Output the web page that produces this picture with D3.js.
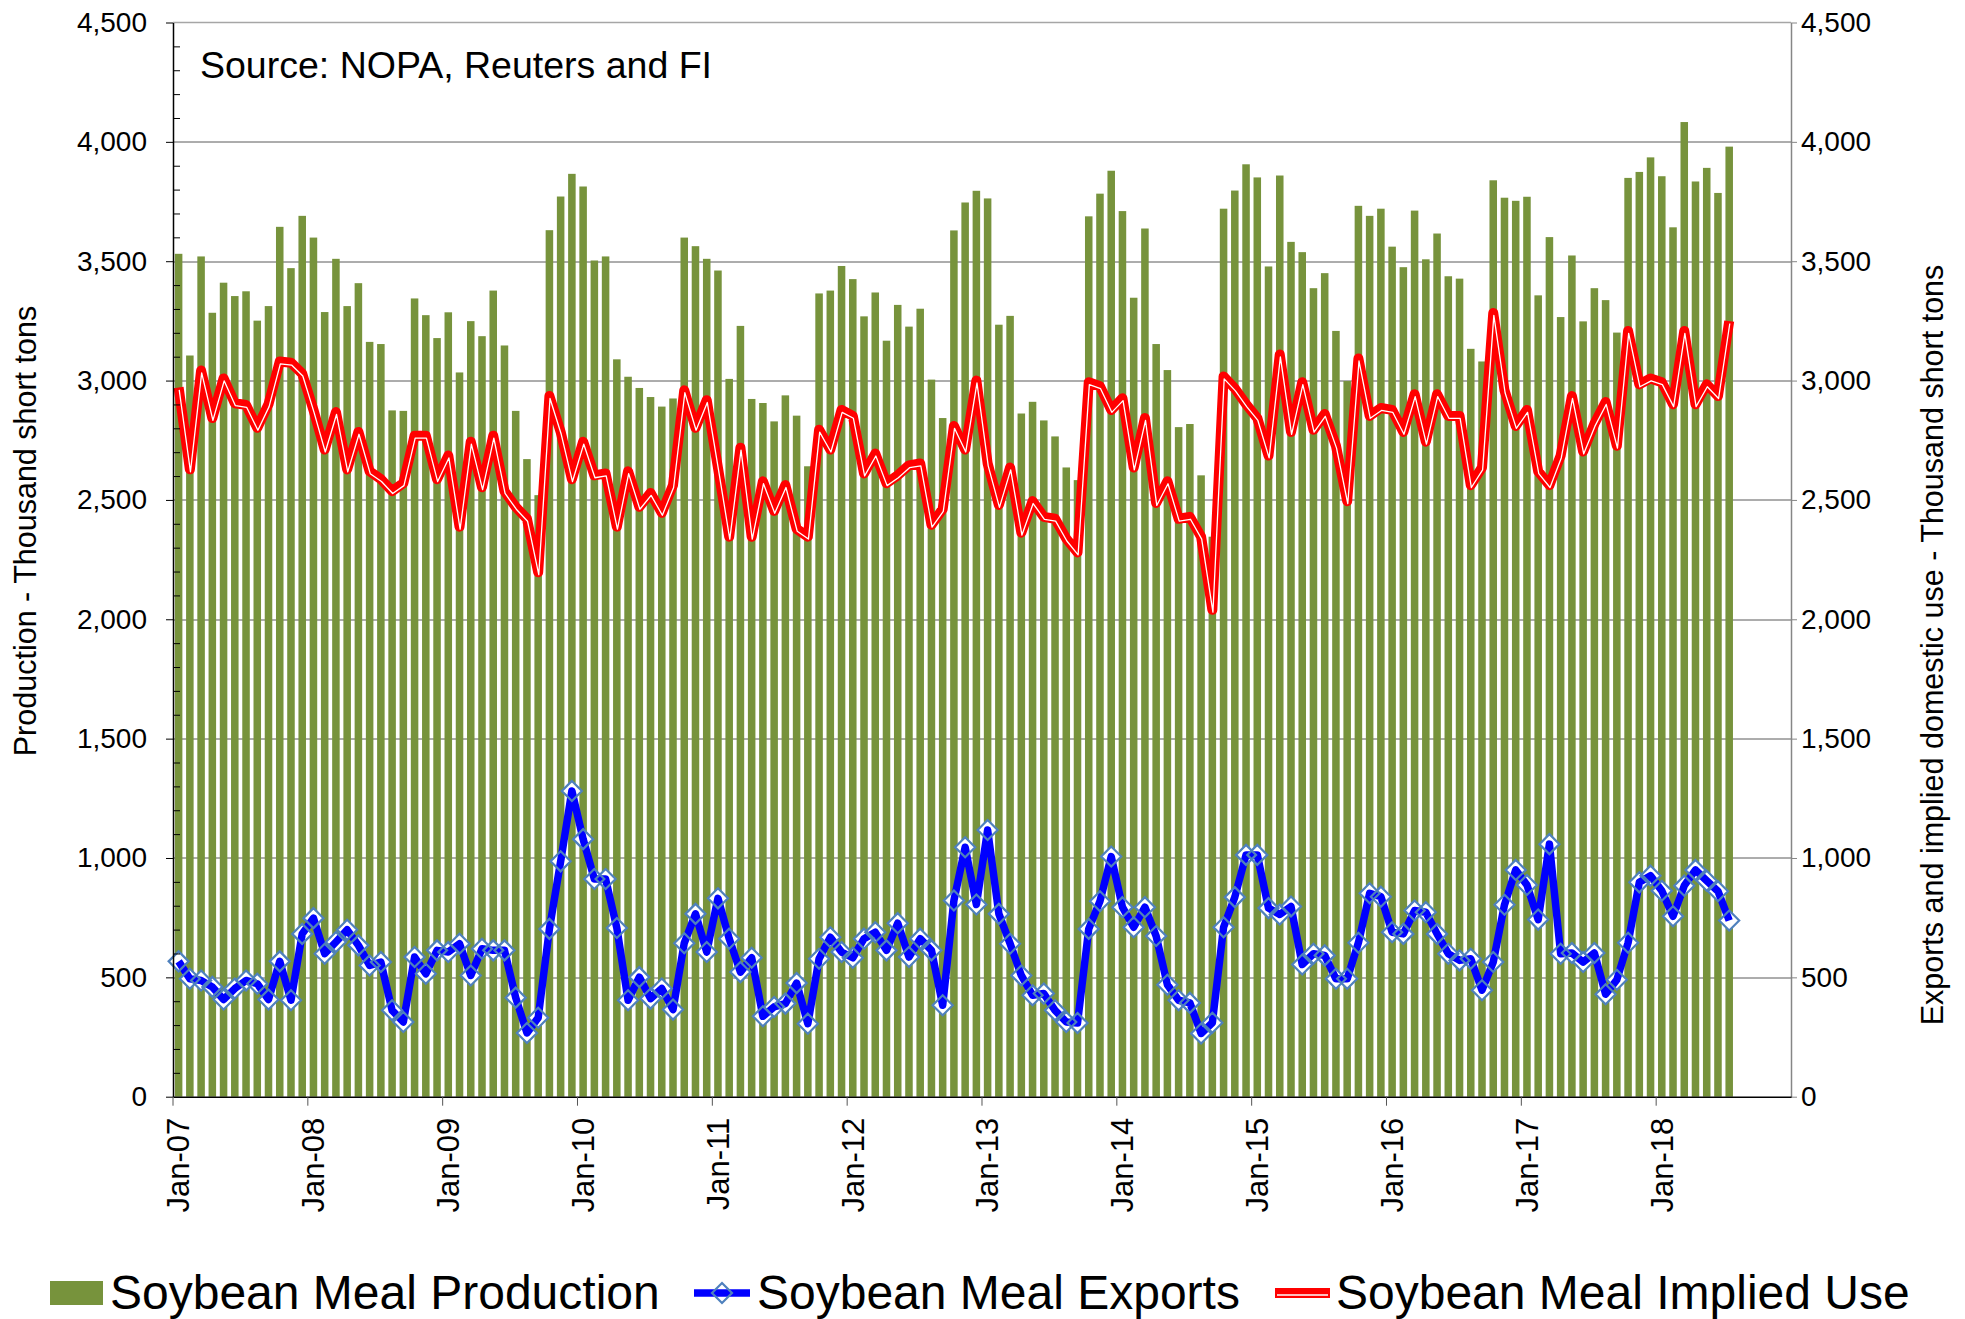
<!DOCTYPE html>
<meta charset="utf-8">

<!-- Load d3.js -->
<script src="https://d3js.org/d3.v7.min.js"></script>

<style>
  body { margin: 0; background: #fff; }
  text { font-family: "Liberation Sans", Arial, sans-serif; fill: #000; }
</style>

<div id="my_dataviz"></div>

<script>
    // monthly values Jan-07 .. Jul-18, thousand short tons
    var production = [
      3531,3105,3520,3284,3410,3354,3374,3251,3312,3644,3471,3690,
      3599,3287,3510,3312,3408,3162,3153,2875,2873,3344,3274,3178,
      3286,3034,3249,3186,3377,3147,2873,2671,2520,3630,3771,3866,
      3813,3503,3520,3089,3016,2969,2931,2891,2925,3599,3563,3510,
      3461,3007,3229,2923,2906,2829,2938,2853,2641,3365,3377,3480,
      3425,3269,3369,3167,3317,3226,3301,3004,2843,3629,3746,3795,
      3763,3234,3271,2862,2911,2833,2766,2636,2583,3688,3783,3879,
      3710,3347,3637,3153,3044,2805,2818,2603,2346,3720,3796,3906,
      3851,3478,3859,3581,3538,3387,3450,3208,2998,3732,3690,3720,
      3561,3475,3712,3508,3616,3437,3427,3133,3080,3839,3766,3753,
      3770,3357,3601,3266,3524,3248,3387,3337,3201,3849,3874,3935,
      3856,3642,4083,3834,3891,3786,3980
    ];

    var exportsData = [
      567,494,487,460,407,453,487,473,407,567,404,682,
      748,599,648,699,634,550,564,362,313,585,515,613,
      606,641,508,620,613,613,415,267,331,703,986,1281,
      1079,912,912,707,404,501,411,453,365,643,766,606,
      831,662,522,582,337,376,390,476,306,578,668,606,
      582,662,689,613,727,585,662,613,383,822,1045,805,
      1117,766,641,508,425,432,362,313,309,703,819,1006,
      794,710,794,673,469,404,393,265,310,710,836,1013,
      1013,790,763,797,554,599,592,494,494,645,852,838,
      689,682,780,773,682,599,571,578,446,564,804,950,
      887,742,1058,599,602,564,602,429,490,645,898,926,
      863,756,884,950,905,861,738
    ];

    var impliedUse = [
      2971,2628,3042,2843,3009,2905,2898,2802,2901,3080,3075,3029,
      2877,2711,2868,2628,2785,2620,2587,2537,2570,2769,2769,2587,
      2686,2388,2744,2553,2769,2537,2471,2421,2197,2935,2785,2587,
      2744,2603,2611,2388,2620,2471,2529,2446,2562,2959,2802,2918,
      2635,2346,2719,2346,2578,2454,2562,2379,2346,2794,2711,2877,
      2852,2611,2694,2570,2603,2645,2653,2396,2462,2810,2711,3000,
      2653,2479,2636,2363,2495,2429,2421,2338,2280,2993,2976,2877,
      2926,2636,2843,2487,2578,2421,2429,2346,2040,3017,2967,2901,
      2843,2686,3109,2785,2993,2794,2860,2727,2495,3092,2852,2885,
      2877,2785,2943,2744,2943,2852,2852,2562,2636,3283,2959,2810,
      2877,2620,2562,2686,2935,2703,2819,2910,2727,3208,2984,3009,
      2993,2901,3208,2901,2984,2935,3249
    ];

    var years = ["07","08","09","10","11","12","13","14","15","16","17","18"];
    var monthNames = ["Jan","Feb","Mar","Apr","May","Jun","Jul","Aug","Sep","Oct","Nov","Dec"];
    var yTicks = [0,500,1000,1500,2000,2500,3000,3500,4000,4500];
    var xTickLabels = ["Jan-07","Jan-08","Jan-09","Jan-10","Jan-11","Jan-12",
                       "Jan-13","Jan-14","Jan-15","Jan-16","Jan-17","Jan-18"];

    // category axis runs Jan-07 .. Dec-18
    var months = [];
    years.forEach(function(yr) {
      monthNames.forEach(function(m) { months.push(m + "-" + yr); });
    });

    var data = production.map(function(p, i) {
      return { month: months[i], prod: p, exp: exportsData[i], use: impliedUse[i] };
    });

    var totalW = 1965, totalH = 1319;
    var margin = {top: 22.5, right: 174, bottom: 222.3, left: 173},
        width = totalW - margin.left - margin.right,
        height = totalH - margin.top - margin.bottom;

    var root = d3.select("#my_dataviz")
      .append("svg")
        .attr("width", totalW)
        .attr("height", totalH);

    var svg = root.append("g")
        .attr("transform", "translate(" + margin.left + "," + margin.top + ")");

    var x = d3.scaleBand()
        .domain(months)
        .range([0, width])
        .paddingInner(0.33)
        .paddingOuter(0.165);

    var y = d3.scaleLinear().domain([0, 4500]).range([height, 0]);
    var y2 = d3.scaleLinear().domain([0, 4500]).range([height, 0]);

    var cx = function(d) { return x(d.month) + x.bandwidth() / 2; };

    // gridlines
    svg.append("g")
      .selectAll("line")
      .data(yTicks.filter(function(v) { return v > 0 && v < 4500; }))
      .enter().append("line")
        .attr("x1", 0).attr("x2", width)
        .attr("y1", function(d) { return Math.round(y(d)) + 0.5; })
        .attr("y2", function(d) { return Math.round(y(d)) + 0.5; })
        .attr("stroke", "#5a5a5a")
        .attr("stroke-width", 1);

    // top border
    svg.append("line")
      .attr("x1", 0).attr("x2", width)
      .attr("y1", y(4500)).attr("y2", y(4500))
      .attr("stroke", "#a6a6a6").attr("stroke-width", 1.5);

    // bars
    svg.append("g")
      .selectAll("rect")
      .data(data)
      .enter().append("rect")
        .attr("x", function(d) { return x(d.month); })
        .attr("y", function(d) { return y(d.prod); })
        .attr("width", x.bandwidth())
        .attr("height", function(d) { return height - y(d.prod); })
        .attr("fill", "#77933C");

    // implied use: red compound line
    var useLine = d3.line()
        .x(cx)
        .y(function(d) { return y2(d.use); });

    svg.append("path")
      .datum(data)
      .attr("d", useLine)
      .attr("fill", "none")
      .attr("stroke", "#FF0000")
      .attr("stroke-width", 10)
      .attr("stroke-linejoin", "round");

    svg.append("path")
      .datum(data)
      .attr("d", useLine)
      .attr("transform", "translate(0.6,2.4)")
      .attr("fill", "none")
      .attr("stroke", "#ffffff")
      .attr("stroke-width", 1.3)
      .attr("stroke-linejoin", "round");

    // exports: blue line with diamonds
    var diamond = function(s) { return "M0," + (-s) + "L" + s + ",0L0," + s + "L" + (-s) + ",0Z"; };

    svg.append("g")
      .selectAll("path")
      .data(data)
      .enter().append("path")
        .attr("d", diamond(10))
        .attr("transform", function(d) { return "translate(" + cx(d) + "," + y2(d.exp) + ")"; })
        .attr("fill", "#ffffff");

    svg.append("path")
      .datum(data)
      .attr("d", d3.line().x(cx).y(function(d) { return y2(d.exp); }))
      .attr("fill", "none")
      .attr("stroke", "#0000FF")
      .attr("stroke-width", 7.5)
      .attr("stroke-linejoin", "round");

    svg.append("g")
      .selectAll("path")
      .data(data)
      .enter().append("path")
        .attr("d", diamond(10))
        .attr("transform", function(d) { return "translate(" + cx(d) + "," + y2(d.exp) + ")"; })
        .attr("fill", "none")
        .attr("stroke", "#4F81BD")
        .attr("stroke-width", 2.2);

    // left axis
    var leftAxis = svg.append("g")
      .call(d3.axisLeft(y).tickValues(yTicks).tickSize(7).tickSizeOuter(0)
              .tickPadding(19).tickFormat(d3.format(",")));
    leftAxis.select(".domain").attr("stroke", "#000").attr("stroke-width", 1.5);
    leftAxis.selectAll("text").style("font-size", "28px");

    var minorTicks = d3.range(100, 4500, 100).filter(function(v) { return v % 500 !== 0; });
    var leftMinor = svg.append("g")
      .call(d3.axisLeft(y).tickValues(minorTicks).tickSize(-7).tickFormat(""));
    leftMinor.select(".domain").remove();

    // right axis
    var rightAxis = svg.append("g")
      .attr("transform", "translate(" + width + ",0)")
      .call(d3.axisRight(y2).tickValues(yTicks).tickSize(6).tickSizeOuter(0)
              .tickPadding(4).tickFormat(d3.format(",")));
    rightAxis.select(".domain").attr("stroke", "#868686").attr("stroke-width", 1.5);
    rightAxis.selectAll("line").attr("stroke", "#868686");
    rightAxis.selectAll("text").style("font-size", "28px");

    // bottom axis, ticks between categories
    var bottomAxis = svg.append("g")
      .attr("transform", "translate(0," + height + ")")
      .call(d3.axisBottom(x).tickValues(xTickLabels).tickSize(9).tickSizeOuter(0));
    bottomAxis.select(".domain").attr("stroke", "#000").attr("stroke-width", 1.5);
    bottomAxis.selectAll(".tick line")
      .attr("x1", -x.step() / 2).attr("x2", -x.step() / 2)
      .attr("stroke", "#555");
    bottomAxis.selectAll("text")
      .attr("transform", "rotate(-90)")
      .attr("x", -21)
      .attr("y", 0)
      .attr("dy", "0.35em")
      .style("text-anchor", "end")
      .style("font-size", "31px");

    // axis titles
    root.append("text")
      .attr("transform", "translate(25,531)rotate(-90)")
      .attr("dy", "0.35em")
      .style("text-anchor", "middle")
      .style("font-size", "30.5px")
      .text("Production - Thousand short tons");

    root.append("text")
      .attr("transform", "translate(1932,645)rotate(-90)")
      .attr("dy", "0.35em")
      .style("text-anchor", "middle")
      .style("font-size", "30.5px")
      .text("Exports and implied domestic use - Thousand short tons");

    // source note
    root.append("text")
      .attr("x", 200).attr("y", 78)
      .style("font-size", "37.5px")
      .text("Source: NOPA, Reuters and FI");

    // legend
    var legend = root.append("g");
    var legendY = 1293;

    legend.append("rect")
      .attr("x", 50).attr("y", legendY - 12)
      .attr("width", 53).attr("height", 24)
      .attr("fill", "#77933C");

    legend.append("line")
      .attr("x1", 694).attr("x2", 750)
      .attr("y1", legendY).attr("y2", legendY)
      .attr("stroke", "#0000FF").attr("stroke-width", 7.5);
    legend.append("path")
      .attr("d", diamond(10))
      .attr("transform", "translate(722," + legendY + ")")
      .attr("fill", "none")
      .attr("stroke", "#4F81BD")
      .attr("stroke-width", 2.2);

    legend.append("line")
      .attr("x1", 1275).attr("x2", 1330)
      .attr("y1", legendY).attr("y2", legendY)
      .attr("stroke", "#FF0000").attr("stroke-width", 10);
    legend.append("line")
      .attr("x1", 1277).attr("x2", 1328)
      .attr("y1", legendY + 2).attr("y2", legendY + 2)
      .attr("stroke", "#ffffff").attr("stroke-width", 1.3);

    var legendItems = [
      {x: 110, label: "Soybean Meal Production"},
      {x: 757, label: "Soybean Meal Exports"},
      {x: 1336, label: "Soybean Meal Implied Use"}
    ];

    legend.selectAll("text.leg")
      .data(legendItems)
      .enter().append("text")
        .attr("class", "leg")
        .attr("x", function(d) { return d.x; })
        .attr("y", 1309)
        .style("font-size", "48px")
        .text(function(d) { return d.label; });
</script>
